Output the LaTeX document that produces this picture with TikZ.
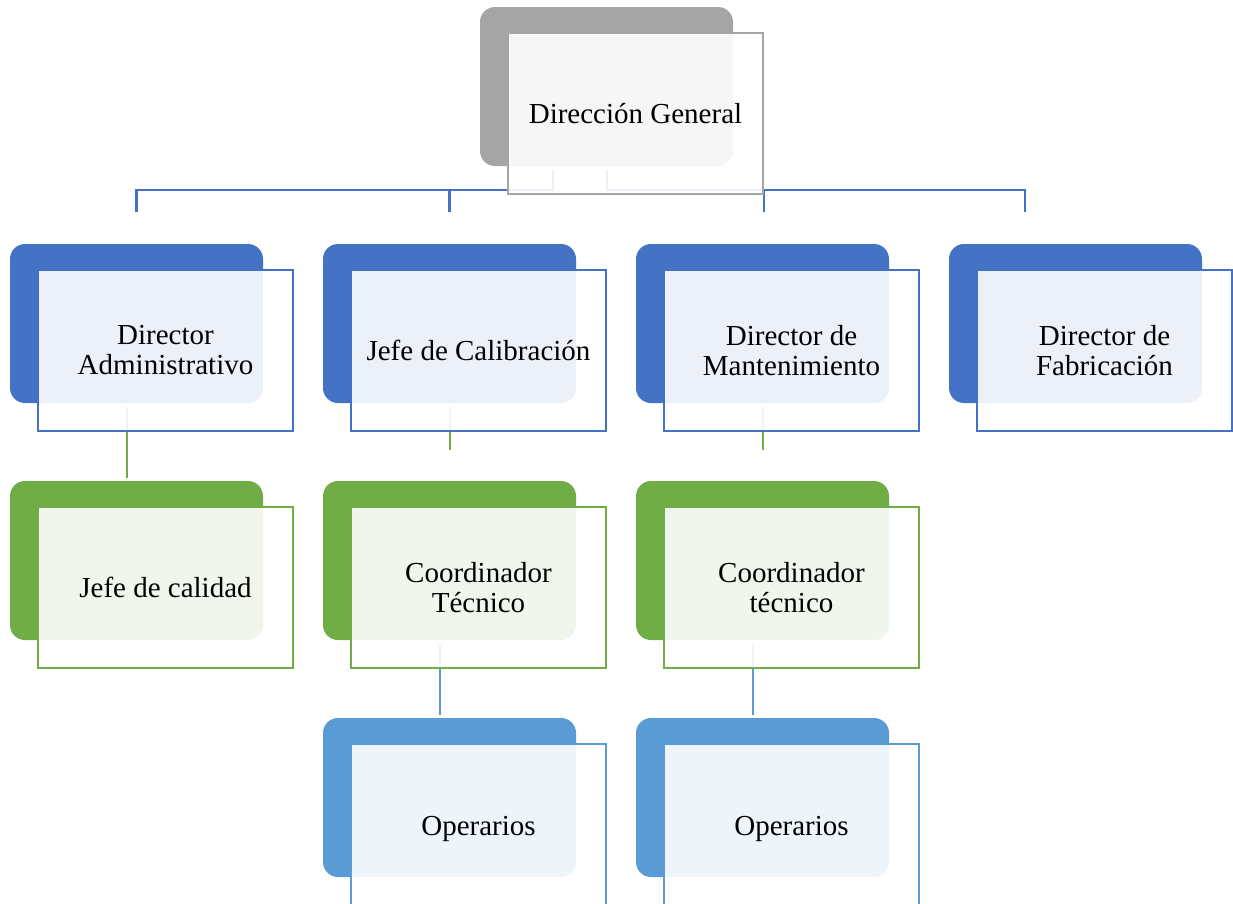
\documentclass[tikz,border=0pt]{standalone}
\usepackage{fontspec}
\setmainfont{Liberation Serif}
\usetikzlibrary{calc}
\definecolor{cgray}{HTML}{A5A5A5}
\definecolor{cblue}{HTML}{4472C4}
\definecolor{cgreen}{HTML}{70AD47}
\definecolor{clight}{HTML}{5B9BD5}
\tikzset{
  back/.style={rounded corners=15pt, fill=#1, draw=none, minimum width=253pt,
    minimum height=159pt, inner sep=0pt, outer sep=0pt},
  front/.style={draw=#1, line width=2.4pt, fill=white, fill opacity=0.9, text opacity=1,
    minimum width=255pt, minimum height=161pt, inner sep=0pt, outer sep=0pt,
    align=center, font=\fontsize{29}{30}\selectfont},
  caption/.style={align=center, inner sep=0pt, font=\fontsize{29}{30}\selectfont},
  link/.style={draw=#1, line width=2.4pt},
}
% #1 name, #2 colour, #3 label: the framed panel over the back shape #1-b
\newcommand\orgpanel[3]{%
  \node[front=#2] (#1) at ($(#1-b.center)+(29,27)$) {#3};
}
\begin{document}
\begin{tikzpicture}[x=1pt,y=-1pt]
\useasboundingbox (0,0) rectangle (1233,903);
\clip (0,0) rectangle (1233,903);
\fill[white] (0,0) rectangle (1233,903);

% back shapes
\node[back=cgray,  anchor=north west] (dg-b)  at (480,7)   {};
\node[back=cblue,  anchor=north west] (adm-b) at (10,244)  {};
\node[back=cblue,  anchor=north west] (cal-b) at (323,244) {};
\node[back=cblue,  anchor=north west] (man-b) at (636,244) {};
\node[back=cblue,  anchor=north west] (fab-b) at (949,244) {};
\node[back=cgreen, anchor=north west] (jc-b)  at (10,481)  {};
\node[back=cgreen, anchor=north west] (ct1-b) at (323,481) {};
\node[back=cgreen, anchor=north west] (ct2-b) at (636,481) {};
\node[back=clight, anchor=north west] (op1-b) at (323,718) {};
\node[back=clight, anchor=north west] (op2-b) at (636,718) {};

% connectors
\draw[link=cblue] ($(dg-b.south)+(-53.5,4)$) |- ($(adm-b.north)+(0,-54)$) -- ($(adm-b.north)+(0,-32)$);
\draw[link=cblue] ($(cal-b.north)+(0,-54)$) -- ($(cal-b.north)+(0,-32)$);
\draw[link=cblue] ($(dg-b.south)+(0.5,4)$) |- ($(fab-b.north)+(-50.5,-54)$) -- ($(fab-b.north)+(-50.5,-32)$);
\draw[link=cblue] ($(man-b.north)+(1.5,-54)$) -- ($(man-b.north)+(1.5,-32)$);

\draw[link=cgreen] ($(adm-b.south)+(-9.5,4)$) -- ($(jc-b.north)+(-9.5,-3)$);
\draw[link=cgreen] ($(cal-b.south)+(0.5,4)$) -- ($(ct1-b.north)+(0.5,-31)$);
\draw[link=cgreen] ($(man-b.south)+(0.5,4)$) -- ($(ct2-b.north)+(0.5,-31)$);

\draw[link=clight] ($(ct1-b.south)+(-9.5,4)$) -- ($(op1-b.north)+(-9.5,-3)$);
\draw[link=clight] ($(ct2-b.south)+(-9.5,4)$) -- ($(op2-b.north)+(-9.5,-3)$);

% framed panels with the labels
\orgpanel{dg}{cgray}{Dirección General}
\orgpanel{adm}{cblue}{Director\\Administrativo}
\orgpanel{cal}{cblue}{Jefe de Calibración}
\orgpanel{man}{cblue}{Director de\\Mantenimiento}
\orgpanel{fab}{cblue}{Director de\\Fabricación}
\orgpanel{jc}{cgreen}{Jefe de calidad}
\orgpanel{ct1}{cgreen}{Coordinador\\Técnico}
\orgpanel{ct2}{cgreen}{Coordinador\\técnico}
\orgpanel{op1}{clight}{}
\orgpanel{op2}{clight}{}
% the bottom panels run past the page edge, so their labels sit a bit lower
\node[caption] (op1-t) at ($(op1.center)+(0,4)$) {Operarios};
\node[caption] (op2-t) at ($(op2.center)+(0,4)$) {Operarios};
\end{tikzpicture}
\end{document}
